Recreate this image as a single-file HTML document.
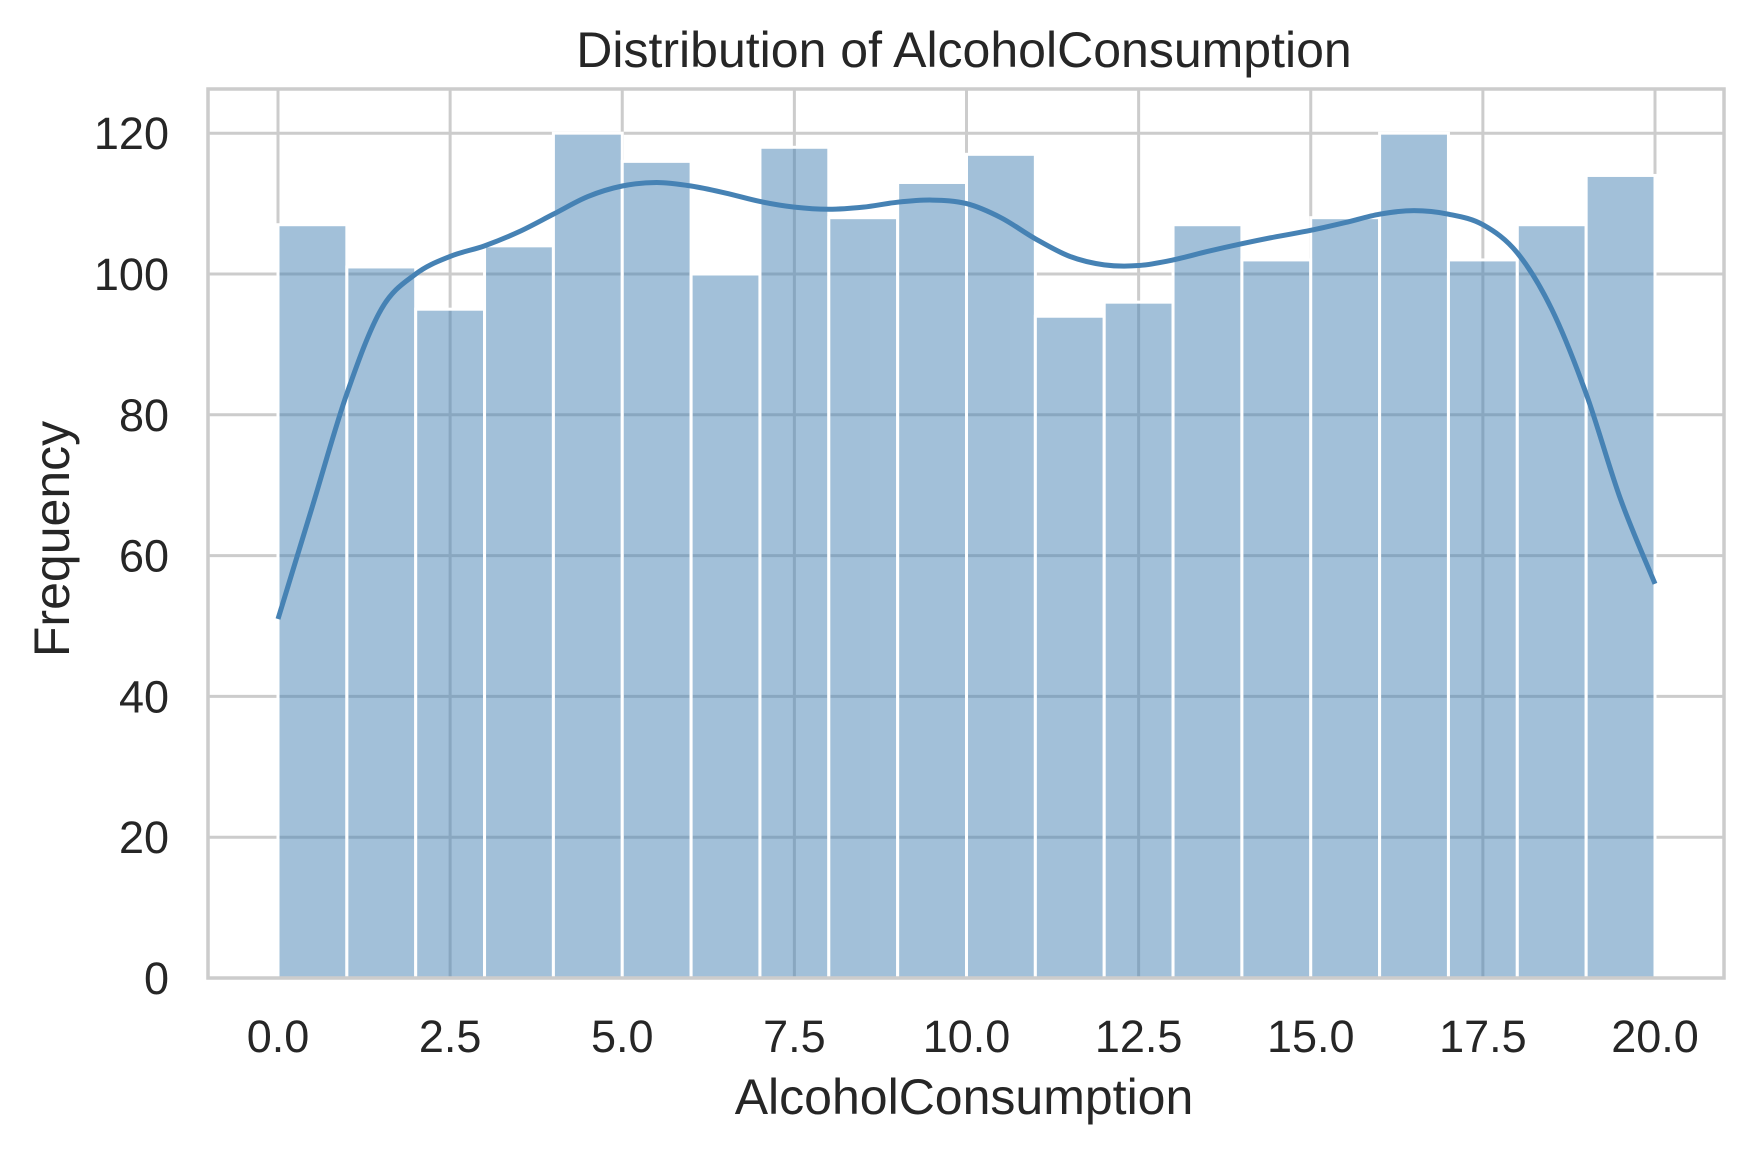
<!DOCTYPE html>
<html><head><meta charset="utf-8"><style>
body{margin:0;background:#fff;}
svg text{font-family:"Liberation Sans",sans-serif;fill:#262626;}
</style></head><body>
<svg id="chart" width="1753" height="1152" viewBox="0 0 1753 1152" xmlns="http://www.w3.org/2000/svg">
<rect x="0" y="0" width="1753" height="1152" fill="#fff"/>
<g id="grid"></g>
<g id="bars"></g>
<g id="kde"></g>
<rect x="208" y="89" width="1516" height="889" fill="none" stroke="#cccccc" stroke-width="3.5"/>
<g id="ticks"></g>
<text x="964" y="67" font-size="50" text-anchor="middle">Distribution of AlcoholConsumption</text>
<text x="964" y="1114" font-size="50" text-anchor="middle">AlcoholConsumption</text>
<text transform="translate(69,539) rotate(-90)" font-size="50" text-anchor="middle">Frequency</text>
</svg>
<script>
const binEdgesStart = [0,1,2,3,4,5,6,7,8,9,10,11,12,13,14,15,16,17,18,19];
const binCounts = [107,101,95,104,120,116,100,118,108,113,117,94,96,107,102,108,120,102,107,114];
const xTicks = [0,2.5,5,7.5,10,12.5,15,17.5,20];
const xTickLabels = ["0.0","2.5","5.0","7.5","10.0","12.5","15.0","17.5","20.0"];
const yTicks = [0,20,40,60,80,100,120];
const kdeX = [0,0.5,1,1.5,2,2.5,3,3.5,4,4.5,5,5.5,6,6.5,7,7.5,8,8.5,9,9.5,10,10.5,11,11.5,12,12.5,13,13.5,14,14.5,15,15.5,16,16.5,17,17.5,18,18.5,19,19.5,20];
const kdeY = [51,67,83,95,100,102.5,104,106,108.5,111,112.5,113,112.5,111.5,110.3,109.5,109.2,109.5,110.2,110.5,110,108,105,102.5,101.3,101.2,102,103.2,104.3,105.3,106.2,107.3,108.5,109,108.5,107,103,95,83,68,56];
const NS="http://www.w3.org/2000/svg";
const xs=v=>278+v*68.85;
const ys=v=>978-v*7.04;
function mk(tag,attrs,parent){const e=document.createElementNS(NS,tag);for(const k in attrs)e.setAttribute(k,attrs[k]);document.getElementById(parent).appendChild(e);return e;}
yTicks.forEach(t=>{
  const l=mk('line',{x1:208,x2:1724,y1:ys(t),y2:ys(t),stroke:'#cccccc','stroke-width':3},'grid');
  
  
  const tx=mk('text',{x:169,y:ys(t)+16,'font-size':45,'text-anchor':'end'},'ticks');
  tx.textContent=t;
  
  
});
xTicks.forEach((t,i)=>{
  const l=mk('line',{x1:xs(t),x2:xs(t),y1:89,y2:978,stroke:'#cccccc','stroke-width':3},'grid');
  
  
  const tx=mk('text',{x:xs(t),y:1052,'font-size':45,'text-anchor':'middle'},'ticks');
  tx.textContent=xTickLabels[i];
  
  
});
binEdgesStart.forEach((b,i)=>{
  const r=mk('rect',{x:xs(b),y:ys(binCounts[i]),width:xs(b+1)-xs(b),height:ys(0)-ys(binCounts[i]),fill:'rgba(70,130,180,0.5)',stroke:'#fff','stroke-width':3},'bars');
  
  
});
let d='';
const px=kdeX.map(xs), py=kdeY.map(ys);
d='M'+px[0]+','+py[0];
for(let i=0;i<px.length-1;i++){
  const p0=i>0?i-1:i, p3=i+2<px.length?i+2:i+1;
  const c1x=px[i]+(px[i+1]-px[p0])/6, c1y=py[i]+(py[i+1]-py[p0])/6;
  const c2x=px[i+1]-(px[p3]-px[i])/6, c2y=py[i+1]-(py[p3]-py[i])/6;
  d+=` C${c1x},${c1y} ${c2x},${c2y} ${px[i+1]},${py[i+1]}`;
}
const path=mk('path',{d:d,fill:'none',stroke:'#4682b4','stroke-width':5},'kde');


</script>
</body></html>
